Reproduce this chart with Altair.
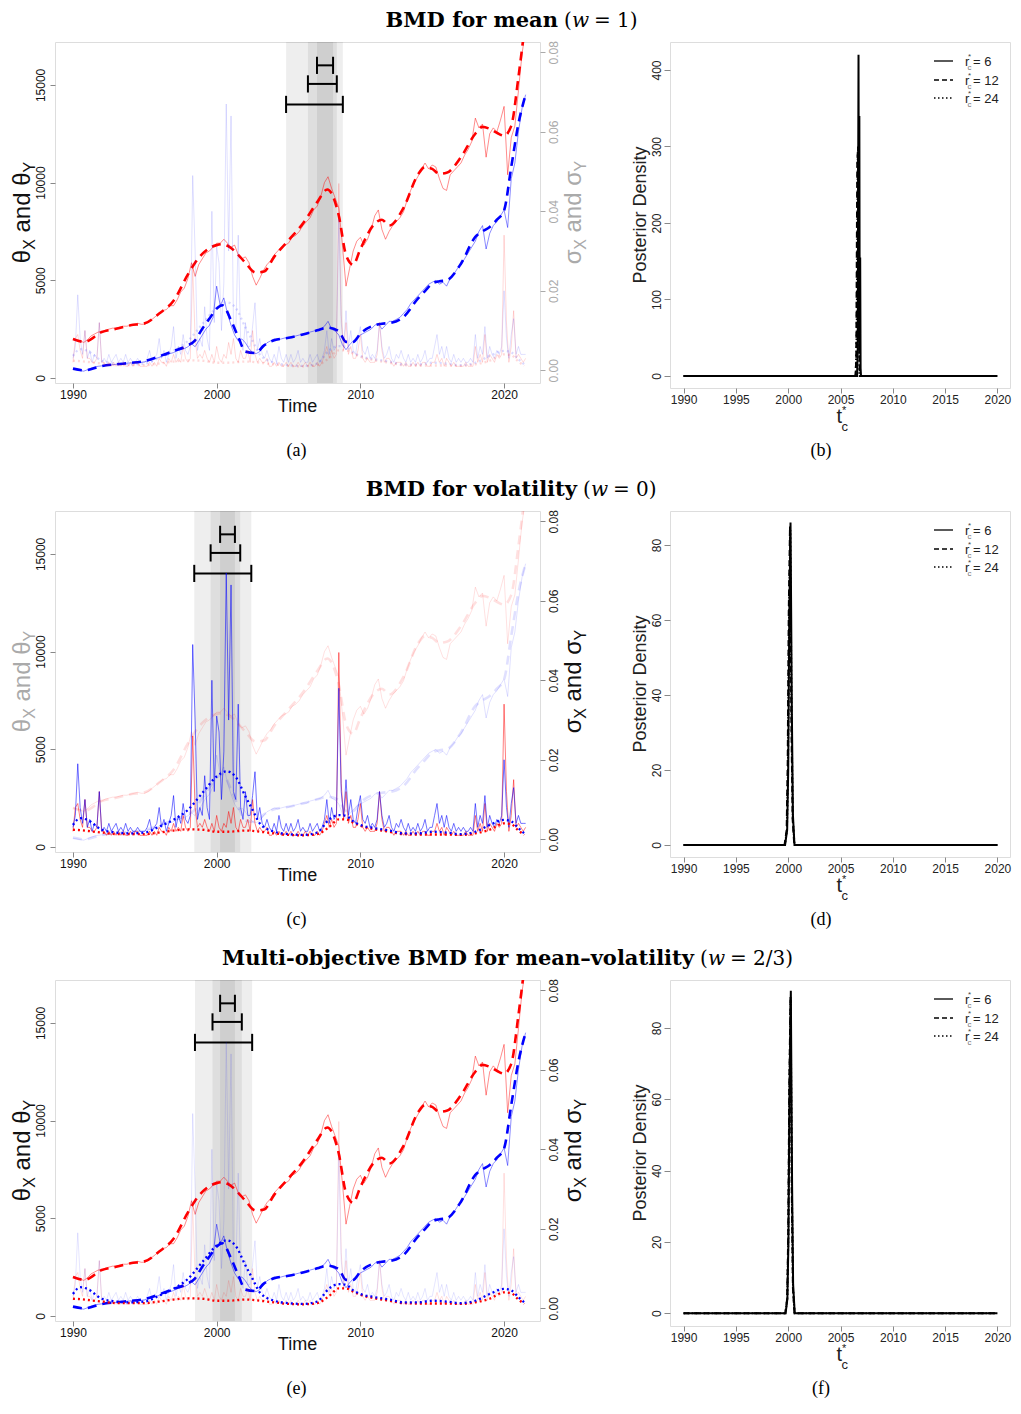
import altair as alt
import pandas as pd

SANS = "Liberation Sans"
SERIF = "DejaVu Serif"
CAPF = "Liberation Serif"

# ---------------- data ----------------
# quarterly index levels, 1990.00 ... 2021.50
price_x = [
    2000, 1950, 1900, 1820, 1950, 2150, 2250, 2350, 2350, 2450, 2500, 2550,
    2550, 2600, 2650, 2650, 2700, 2750, 2800, 2750, 2750, 2850, 3000, 3150,
    3300, 3450, 3500, 3700, 3700, 4000, 4400, 4600, 5100, 5900, 5200, 5800,
    6100, 6400, 6500, 6700, 6900, 6900, 7100, 6900, 6700, 6800, 6300, 6100,
    6200, 5900, 5200, 4750, 5100, 5500, 5800, 6000, 6300, 6500, 6700, 6800,
    6900, 7200, 7300, 7500, 7800, 8000, 8200, 8600, 8800, 9300, 10000, 10300,
    9700, 9200, 8700, 6800, 4700, 5600, 6500, 7000, 7200, 6800, 7100, 7600,
    8300, 8600, 7600, 7100, 7500, 7800, 8000, 8200, 8500, 9100, 9600, 10000,
    10300, 10700, 11000, 10700, 10900, 10800, 10200, 9700, 9600, 10400, 10600, 10800,
    11000, 11400, 11700, 12100, 13300, 12800, 13000, 11300, 12500, 12800, 12600, 13200,
    13900, 10400, 12300, 12900, 14700, 16600, 17800,
]
price_y = [
    450, 420, 380, 350, 420, 500, 560, 600, 620, 640, 660, 680,
    700, 720, 740, 760, 770, 780, 790, 800, 830, 880, 950, 1000,
    1050, 1150, 1150, 1250, 1300, 1400, 1450, 1500, 1600, 1750, 1600, 1900,
    2200, 2500, 2700, 3100, 4700, 3700, 4100, 3300, 2700, 2200, 1900, 2000,
    1800, 1500, 1300, 1250, 1350, 1600, 1800, 1900, 2000, 1950, 2000, 2050,
    2050, 2100, 2150, 2200, 2250, 2250, 2350, 2400, 2450, 2500, 2650, 2900,
    2500, 2400, 2200, 1700, 1450, 1700, 1900, 2100, 2200, 2300, 2400, 2500,
    2700, 2800, 2500, 2700, 2900, 2900, 3000, 3100, 3300, 3500, 3800, 4000,
    4200, 4400, 4600, 4800, 4900, 5000, 4800, 4900, 4700, 5100, 5300, 5600,
    5800, 6100, 6400, 6700, 7000, 7500, 7800, 6600, 7400, 7800, 8000, 8300,
    8600, 7700, 10200, 11000, 12600, 13800, 14500,
]
price_t = [1990 + q / 4 for q in range(len(price_x))]

# smoothed posterior means
mean_t = [1990, 1990.8, 1992, 1993, 1994, 1995, 1996, 1997, 1998, 1998.5, 1999, 1999.5,
          2000, 2000.4, 2001, 2001.5, 2002, 2002.7, 2003.3, 2004, 2005, 2006, 2007, 2007.7,
          2008.5, 2009, 2009.5, 2010, 2011, 2011.5, 2012, 2013, 2014, 2014.5, 2015, 2015.5,
          2016, 2017, 2018, 2018.5, 2019, 2019.5, 2020, 2020.5, 2021, 2021.5]
mean_x = [2000, 1850, 2350, 2520, 2700, 2800, 3300, 3950, 5300, 5900, 6350, 6650,
          6800, 6850, 6650, 6300, 5900, 5400, 5450, 6200, 7050, 7900, 9000, 9650,
          8300, 6300, 5800, 6600, 7900, 8100, 7800, 8700, 10400, 10800, 10700, 10450,
          10500, 11300, 12500, 12850, 12750, 12550, 12400, 12900, 15400, 18400]
mean_y = [480, 390, 610, 700, 770, 870, 1110, 1380, 1670, 1930, 2520, 3040,
          3550, 3720, 2950, 2100, 1350, 1280, 1670, 1930, 2060, 2230, 2440, 2580,
          2390, 1850, 1840, 2270, 2700, 2780, 2810, 3120, 4060, 4450, 4830, 4950,
          5000, 5850, 7220, 7500, 7730, 8100, 8580, 10800, 13020, 14500]

# bimonthly volatility (units of 1e-3), 1990.0 ... 2021.5
vol_y_milli = [
    3, 6, 19, 8, 4, 10, 3, 5, 2, 4, 3, 12, 2, 3, 2, 4, 2, 3,
    4, 2, 3, 2, 4, 2, 3, 2, 2, 3, 2, 2, 2, 3, 5, 2, 3, 4,
    8, 3, 5, 2, 4, 6, 11, 3, 6, 4, 9, 5, 4, 6, 49, 30, 5, 8,
    6, 16, 8, 5, 40, 12, 31, 27, 10, 22, 67, 30, 64, 12, 10, 34, 8, 5,
    12, 6, 6, 11, 17, 5, 8, 4, 3, 5, 3, 2, 4, 2, 6, 3, 2, 4,
    2, 4, 2, 3, 5, 2, 3, 2, 2, 4, 2, 3, 4, 2, 3, 5, 10, 4,
    8, 5, 6, 38, 12, 6, 15, 6, 10, 5, 4, 8, 11, 5, 4, 6, 3, 4,
    3, 5, 12, 6, 3, 4, 6, 3, 2, 4, 3, 5, 3, 2, 4, 2, 3, 2,
    4, 2, 3, 5, 2, 3, 3, 6, 9, 4, 6, 3, 6, 3, 2, 4, 2, 3,
    2, 3, 2, 2, 3, 2, 9, 3, 6, 4, 11, 3, 6, 4, 3, 5, 4, 6,
    20, 8, 3, 9, 13, 4, 6, 4, 4, 4,
]
vol_x_milli = [
    2, 8, 9, 5, 3, 10, 3, 3, 2, 2, 3, 12, 2, 2, 1, 2, 1, 2,
    1, 2, 1, 2, 1, 1, 2, 1, 2, 2, 1, 1, 1, 1, 2, 1, 2, 1,
    3, 2, 2, 1, 3, 2, 4, 2, 3, 2, 6, 3, 2, 3, 26, 8, 3, 4,
    3, 5, 3, 2, 4, 2, 6, 3, 2, 4, 3, 7, 4, 8, 3, 2, 5, 3,
    3, 5, 2, 10, 4, 2, 3, 2, 2, 3, 1, 1, 2, 1, 2, 1, 1, 2,
    1, 2, 1, 1, 2, 1, 1, 2, 1, 2, 1, 1, 2, 1, 2, 4, 6, 3,
    5, 3, 4, 47, 14, 5, 12, 4, 6, 3, 3, 5, 9, 3, 2, 3, 2, 2,
    2, 4, 12, 5, 2, 3, 3, 2, 1, 2, 2, 2, 1, 2, 1, 1, 2, 1,
    2, 1, 2, 2, 1, 1, 2, 2, 4, 2, 3, 1, 3, 2, 1, 2, 1, 1,
    1, 1, 2, 1, 1, 1, 6, 2, 4, 2, 9, 2, 4, 3, 2, 4, 3, 4,
    34, 12, 2, 6, 15, 3, 4, 3, 2, 3,
]
vol_t = [1990 + m / 6 for m in range(len(vol_y_milli))]

# smoothed volatility (units of 1e-3)
svol_t = [1990, 1990.5, 1991, 1992, 1993, 1994, 1995, 1996, 1997, 1998, 1999, 2000,
          2000.7, 2001.3, 2002, 2002.5, 2003, 2004, 2005, 2006, 2007, 2007.8, 2008.5, 2009,
          2009.5, 2010, 2011, 2012, 2013, 2014, 2015, 2016, 2017, 2018, 2019, 2020,
          2020.5, 2021, 2021.4]
svol_y_milli = [3.6, 5.3, 4.9, 2.4, 1.7, 1.5, 1.7, 3.2, 4.9, 7.4, 11.6, 15.8,
                17.1, 15.8, 10.8, 7.4, 4.0, 1.9, 1.3, 1.1, 1.7, 4.9, 6.1, 5.9,
                4.5, 3.6, 2.8, 2.2, 1.5, 1.5, 1.9, 1.7, 1.3, 1.9, 3.6, 4.9,
                4.5, 2.8, 1.5]
svol_x_milli = [2.4, 2.3, 2.1, 1.7, 1.3, 1.3, 1.3, 1.7, 2.2, 2.5, 2.4, 1.9,
                1.9, 2.0, 2.2, 2.1, 1.9, 1.5, 1.1, 1.0, 1.3, 3.0, 5.0, 5.0,
                4.2, 3.4, 2.5, 1.9, 1.3, 1.2, 1.2, 1.2, 1.1, 1.5, 2.4, 4.0,
                3.8, 2.2, 1.1]

# change-point credible intervals (r=24, r=12, r=6)
intervals = {
    "a": [(2004.83, 2008.78), (2006.35, 2008.36), (2006.98, 2008.10)],
    "c": [(1998.44, 2002.41), (1999.58, 2001.64), (2000.24, 2001.27)],
    "e": [(1998.49, 2002.47), (1999.71, 2001.75), (2000.24, 2001.27)],
}
bar_levels = [14000, 15050, 16000]

# posterior densities of t*_c
dens = {
    "b": {
        "6": ([1990, 2006.58, 2006.64, 2006.72, 2006.76, 2006.8, 2006.84, 2006.88, 2006.92, 2006.96, 2020],
              [0, 0, 30, 420, 120, 340, 30, 155, 10, 0, 0]),
        "12": ([1990, 2006.42, 2006.5, 2006.6, 2006.68, 2006.76, 2006.84, 2020],
               [0, 0, 20, 280, 300, 120, 0, 0]),
        "24": ([1990, 2006.45, 2006.55, 2006.65, 2006.72, 2006.8, 2020],
               [0, 0, 60, 290, 250, 0, 0]),
    },
    "d": {
        "6": ([1990, 1999.7, 1999.9, 2000.0, 2000.1, 2000.22, 2000.35, 2000.45, 2000.6, 2020],
              [0, 0, 4, 20, 60, 86, 35, 8, 0, 0]),
        "12": ([1990, 1999.65, 1999.85, 1999.95, 2000.05, 2000.17, 2000.3, 2000.42, 2000.58, 2020],
               [0, 0, 4, 22, 62, 85, 33, 7, 0, 0]),
        "24": ([1990, 1999.68, 1999.88, 1999.98, 2000.08, 2000.2, 2000.32, 2000.44, 2000.6, 2020],
               [0, 0, 4, 20, 60, 84, 34, 7, 0, 0]),
    },
    "f": {
        "6": ([1990, 1999.75, 1999.92, 2000.02, 2000.12, 2000.25, 2000.37, 2000.47, 2000.62, 2020],
              [0, 0, 4, 20, 62, 90.5, 36, 8, 0, 0]),
        "12": ([1990, 1999.72, 1999.9, 2000.0, 2000.1, 2000.22, 2000.34, 2000.45, 2000.6, 2020],
               [0, 0, 4, 22, 63, 89, 34, 7, 0, 0]),
        "24": ([1990, 1999.73, 1999.91, 2000.01, 2000.11, 2000.23, 2000.35, 2000.46, 2000.61, 2020],
               [0, 0, 4, 21, 61, 88, 35, 7, 0, 0]),
    },
}

# ---------------- layout constants ----------------
LW, LH = 485, 341
RW, RH = 340, 346
X_DOM = [1988.75, 2022.5]
YL_DOM = [-256, 17195]
YR_DOM = [-0.0032, 0.0826]
XR_DOM = [1988.7, 2021.2]
DUMMY = pd.DataFrame({"d": [0]})
FRAME = "#888888"
TY = -21
CAPY = LH + 68

price_df = pd.DataFrame({"t": price_t, "x": price_x, "y": price_y})
mean_df = pd.DataFrame({"t": mean_t, "x": mean_x, "y": mean_y})
vol_df = pd.DataFrame({"t": vol_t, "x": [v / 1000 for v in vol_x_milli], "y": [v / 1000 for v in vol_y_milli]})
svol_df = pd.DataFrame({"t": svol_t, "x": [v / 1000 for v in svol_x_milli], "y": [v / 1000 for v in svol_y_milli]})


def txt(text, x, y, size, color="black", angle=0, align="left", baseline="alphabetic",
        font=SANS, weight="normal", style="normal"):
    return alt.Chart(DUMMY).mark_text(
        text=text, fontSize=size, color=color, angle=angle, align=align, baseline=baseline,
        font=font, fontWeight=weight, fontStyle=style,
    ).encode(x=alt.value(x), y=alt.value(y))


GW = {"θ": 0.556, "σ": 0.60, "X": 0.667, "Y": 0.667, "and": 1.668, " ": 0.278}


def rot_title(letter, color, xb, yc):
    F, f = 24, 16
    segs = [(letter, F, 0), ("X", f, 5), (" ", F, 0), ("and", F, 0), (" ", F, 0),
            (letter, F, 0), ("Y", f, 5)]
    total = sum(GW[s] * sz for s, sz, _ in segs)
    y = yc + total / 2
    out = []
    for s, sz, dx in segs:
        if s != " ":
            out.append(txt(s, xb + dx, y, sz, color=color, angle=270))
        y -= GW[s] * sz
    return out


def xs(field="t"):
    return alt.X(f"{field}:Q", scale=alt.Scale(domain=X_DOM, nice=False, zero=False),
                 axis=alt.Axis(values=[1990, 2000, 2010, 2020], format="d", labelFontSize=12,
                               labelFont=SANS, labelColor="#111", tickColor=FRAME, tickSize=5,
                               labelPadding=1, domain=False, grid=False, title=None,
                               labelFlush=False, labelOverlap=False))


def left_panel(key, bold, wtxt, split, st):
    yl_axis = alt.Axis(values=[0, 5000, 10000, 15000], format="d", labelAngle=270,
                       labelAlign="center", labelBaseline="bottom", labelPadding=3, tickSize=5,
                       tickColor=FRAME, labelColor=st["ll"], domain=False, grid=False, title=None,
                       labelFontSize=12, labelFont=SANS, labelOverlap=False, labelFlush=False)
    yr_axis = alt.Axis(values=[0, 0.02, 0.04, 0.06, 0.08], format=".2f", orient="right",
                       labelAngle=270, labelAlign="center", labelBaseline="top", labelPadding=3,
                       tickSize=5, tickColor=st["rt"], labelColor=st["rl"], domain=False,
                       grid=False, title=None, labelFontSize=12, labelFont=SANS,
                       labelOverlap=False, labelFlush=False)

    def yl(field):
        return alt.Y(f"{field}:Q", scale=alt.Scale(domain=YL_DOM, nice=False, zero=False), axis=yl_axis)

    def yr(field):
        return alt.Y(f"{field}:Q", scale=alt.Scale(domain=YR_DOM, nice=False, zero=False), axis=yr_axis)

    iv = intervals[key]
    band_df = pd.DataFrame({"t0": [a for a, b in iv], "t1": [b for a, b in iv]})
    bars_df = pd.DataFrame({"t0": [a for a, b in iv], "t1": [b for a, b in iv], "v": bar_levels})
    caps_rows = []
    for (a, b), v in zip(iv, bar_levels):
        for t in (a, b):
            caps_rows.append({"t": t, "lo": v - 440, "hi": v + 440})
    caps_df = pd.DataFrame(caps_rows)

    bands = alt.Chart(band_df).mark_rect(color="black", opacity=0.065).encode(
        x=xs("t0"), x2="t1", y=alt.value(0), y2=alt.value(LH))

    def line(df, field, color, op, width=1.0, dash=None, interp="linear"):
        kw = dict(color=color, opacity=op, strokeWidth=width, clip=True, interpolate=interp)
        if dash:
            kw["strokeDash"] = dash
        return alt.Chart(df).mark_line(**kw)

    left_layers = [
        bands,
        line(price_df, "x", "#ff0000", st["price"]).encode(x=xs(), y=yl("x")),
        line(price_df, "y", "#0000ff", st["price"]).encode(x=xs(), y=yl("y")),
        line(mean_df, "x", "#ff0000", st["mean"], 2.6, [9, 6], "monotone").encode(x=xs(), y=yl("x")),
        line(mean_df, "y", "#0000ff", st["mean"], 2.6, [9, 6], "monotone").encode(x=xs(), y=yl("y")),
        alt.Chart(bars_df).mark_rule(color="black", strokeWidth=2).encode(x=xs("t0"), x2="t1", y=yl("v")),
        alt.Chart(caps_df).mark_rule(color="black", strokeWidth=2).encode(x=xs("t"), y=yl("lo"), y2="hi"),
    ]
    right_layers = [
        line(vol_df, "x", "#ff0000", st["volx"]).encode(x=xs(), y=yr("x")),
        line(vol_df, "y", "#0000ff", st["voly"]).encode(x=xs(), y=yr("y")),
        line(svol_df, "x", "#ff0000", st["svol"], 2.3, [2, 3], "monotone").encode(x=xs(), y=yr("x")),
        line(svol_df, "y", "#0000ff", st["svol"], 2.3, [2, 3], "monotone").encode(x=xs(), y=yr("y")),
    ]
    texts = []
    texts += rot_title("θ", st["lt"], -25, LH / 2)
    texts += rot_title("σ", st["rtt"], LW + 41, LH / 2)
    texts.append(txt("Time", LW / 2, LH + 24, 18, baseline="middle", align="center", color="#111"))
    texts.append(txt(st["cap"], LW / 2 - 1, CAPY, 18, font=CAPF, align="center", baseline="middle"))
    texts.append(txt(bold, split, TY, 21, font=SERIF, weight="bold", align="right", baseline="middle"))
    s = split + 6
    texts.append(txt("(", s, TY, 20, font=SERIF, baseline="middle"))
    texts.append(txt("w", s + 8, TY, 20, font=SERIF, style="italic", baseline="middle"))
    texts.append(txt(wtxt, s + 8 + 16 + 6, TY, 20, font=SERIF, baseline="middle"))

    return alt.layer(
        alt.layer(*left_layers),
        alt.layer(*right_layers),
        *texts,
    ).resolve_scale(y="independent").resolve_axis(y="independent").properties(width=LW, height=LH)


def right_panel(key, ydom, yticks, cap):
    xa = alt.Axis(values=[1990, 1995, 2000, 2005, 2010, 2015, 2020], format="d", labelFontSize=12,
                  labelFont=SANS, labelColor="#222", tickColor=FRAME, tickSize=5, labelPadding=1,
                  domain=False, grid=False, title=None, labelFlush=False, labelOverlap=False)
    ya = alt.Axis(values=yticks, format="d", labelAngle=270, labelAlign="center",
                  labelBaseline="bottom", labelPadding=1, tickSize=6, tickColor=FRAME,
                  labelColor="#222", domain=False, grid=False, title=None, labelFontSize=12,
                  labelFont=SANS, labelOverlap=False, labelFlush=False)
    layers = []
    styles = {"24": [1.5, 2.5], "12": [6, 4], "6": None}
    for r in ["24", "12", "6"]:
        t, d = dens[key][r]
        df = pd.DataFrame({"t": t, "d": d})
        kw = dict(color="black", strokeWidth=2.0, clip=True)
        if styles[r]:
            kw["strokeDash"] = styles[r]
        layers.append(alt.Chart(df).mark_line(**kw).encode(
            x=alt.X("t:Q", scale=alt.Scale(domain=XR_DOM, nice=False, zero=False), axis=xa),
            y=alt.Y("d:Q", scale=alt.Scale(domain=ydom, nice=False, zero=False), axis=ya)))
    # legend
    lx = RW - 76
    rows = [(19, None, "6"), (38, [5, 3], "12"), (56, [1.5, 2.5], "24")]
    for ry, dash, lab in rows:
        kw = dict(color="black", strokeWidth=1.3)
        if dash:
            kw["strokeDash"] = dash
        layers.append(alt.Chart(DUMMY).mark_rule(**kw).encode(
            x=alt.value(lx), x2=alt.value(lx + 19), y=alt.value(ry)))
        layers.append(txt("r", lx + 31, ry + 5, 13, color="#222"))
        layers.append(txt("*", lx + 34, ry - 2, 8, color="#444"))
        layers.append(txt("c", lx + 33.5, ry + 9, 8, color="#777"))
        layers.append(txt("= " + lab, lx + 39, ry + 5, 13, color="#222"))
    layers.append(txt("Posterior Density", -24, RH / 2, 18, color="#222", angle=270,
                      align="center"))
    cx = RW / 2 - 3.5
    layers.append(txt("t", cx, RH + 35, 20, color="#222"))
    layers.append(txt("*", cx + 5.5, RH + 26, 11, color="#222"))
    layers.append(txt("c", cx + 5, RH + 43, 13, color="#222"))
    layers.append(txt(cap, RW / 2 - 19, CAPY, 18, font=CAPF, align="center", baseline="middle"))
    return alt.layer(*layers).properties(width=RW, height=RH)


sa = dict(price=0.45, mean=1.0, volx=0.15, voly=0.12, svol=0.15, ll="#111", lt="#111",
          rl="#aaaaaa", rt="#aaaaaa", rtt="#aaaaaa", cap="(a)")
sc = dict(price=0.12, mean=0.12, volx=0.5, voly=0.55, svol=1.0, ll="#111", lt="#aaaaaa",
          rl="#222", rt=FRAME, rtt="#111", cap="(c)")
se = dict(price=0.45, mean=1.0, volx=0.12, voly=0.10, svol=1.0, ll="#111", lt="#111",
          rl="#222", rt=FRAME, rtt="#111", cap="(e)")

pa = left_panel("a", "BMD for mean", "= 1)", 503, sa)
pb = right_panel("b", [-15.7, 436.6], [0, 100, 200, 300, 400], "(b)")
pc = left_panel("c", "BMD for volatility", "= 0)", 522, sc)
pd_ = right_panel("d", [-3.2, 89.1], [0, 20, 40, 60, 80], "(d)")
pe = left_panel("e", "Multi-objective BMD for mean–volatility", "= 2/3)", 639, se)
pf = right_panel("f", [-3.6, 93.5], [0, 20, 40, 60, 80], "(f)")

chart = alt.concat(pa, pb, pc, pd_, pe, pf, columns=2, bounds="flush",
                   spacing={"row": 123, "column": 130}).properties(
    padding={"left": 2, "top": 1, "right": 0, "bottom": 0}
).configure_view(stroke=FRAME, strokeWidth=1).configure(font=SANS)

chart.save("out.html", embed_options={"renderer": "svg", "actions": False})
